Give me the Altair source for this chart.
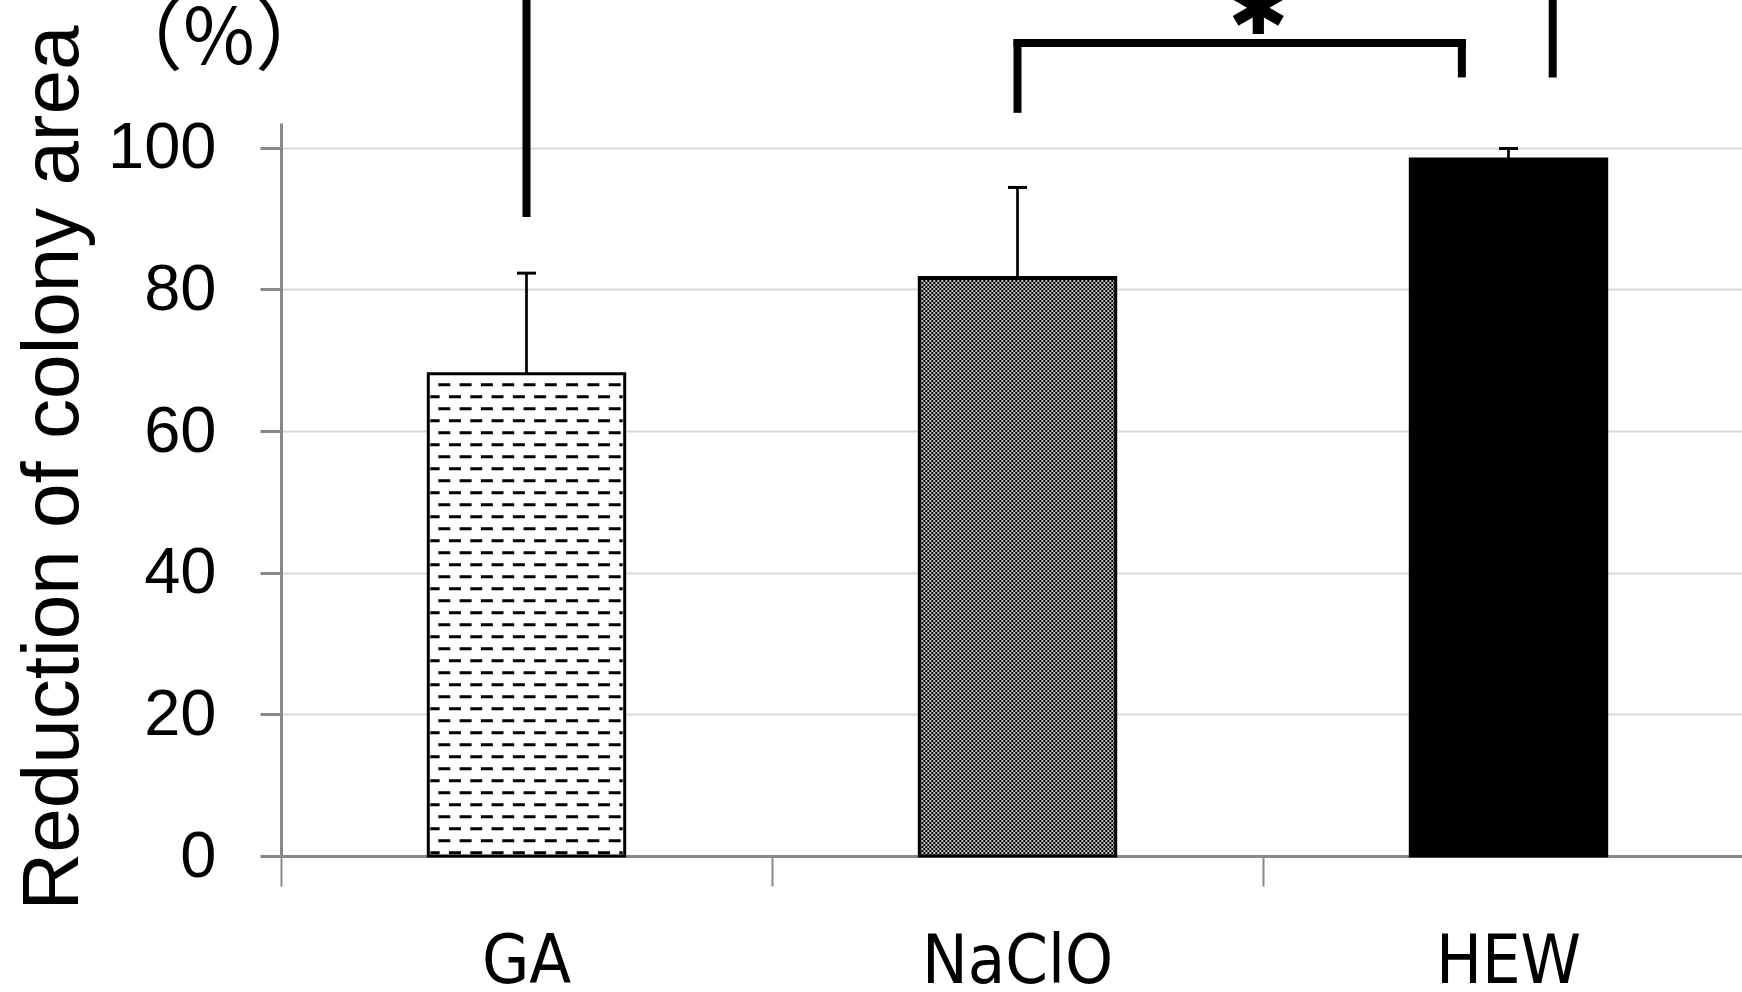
import altair as alt
import pandas as pd

# ---------------- data ----------------
categories = ["GA", "NaClO", "HEW"]
means = [68.1, 81.7, 98.4]
errors = [14.2, 12.7, 1.5]
y_ticks = [0, 20, 40, 60, 80, 100]
x_ticks = [0, 1, 2]
y_title = "Reduction of colony area"
unit_label = "（%）"

# significance marks (x in category-slot units, y in data units)
sig_x = [0.5, 1.5, 1.5, 2.405, 2.59]
sig_x2 = [0.5, 1.5, 2.405, 2.405, 2.59]
sig_y = [90.8, 105.5, 114.8, 110.5, 110.5]
sig_y2 = [130, 114.8, 114.8, 114.8, 130]
star_text = ["✱"]
star_x = [1.99]
star_y = [119.2]

# ---------------- layout ----------------
PLOT_W, PLOT_H = 1461, 733
LEFT, TOP, RIGHT, BOTTOM = 281, 123, 0, 136
SLOT_PX = 491
Y_MAX = 103.5
PX_PER_UNIT = PLOT_H / Y_MAX
X_MAX = PLOT_W / SLOT_PX

xs = alt.Scale(domain=[0, X_MAX], nice=False, zero=False)
ys = alt.Scale(domain=[0, Y_MAX], nice=False, zero=False)

axis_gray = "#898989"
X_AXIS = alt.Axis(values=x_ticks, labels=False, title=None, grid=False,
                  domainColor=axis_gray, domainWidth=3, tickColor=axis_gray,
                  tickWidth=2, tickSize=30)
Y_AXIS = alt.Axis(values=y_ticks, title=None, grid=True, gridColor="#d9d9d9",
                  gridWidth=2, domainColor=axis_gray, domainWidth=3,
                  tickColor=axis_gray, tickWidth=3, tickSize=21,
                  labelFont="Liberation Sans", labelFontSize=65,
                  labelColor="black", labelPadding=44)


def X(field):
    return alt.X(field, scale=xs, axis=X_AXIS)


def Y(field):
    return alt.Y(field, scale=ys, axis=Y_AXIS)


bars = pd.DataFrame({"cat": categories, "mean": means, "err": errors,
                     "i": list(range(len(categories)))})

base = alt.Chart(bars).transform_calculate(
    left="datum.i + 0.3", right="datum.i + 0.7", center="datum.i + 0.5",
    top="datum.mean + datum.err",
    capl="datum.i + 0.5 - 9.5/491", capr="datum.i + 0.5 + 9.5/491",
)

bar_fill = base.mark_bar(strokeWidth=0).encode(
    x=X("left:Q"), x2="right:Q",
    y=Y("mean:Q"), y2=alt.datum(0),
    fill=alt.Fill("cat:N", scale=alt.Scale(domain=categories,
                  range=["white", "black", "black"]), legend=None),
)

# ---- texture rows (decoration of the hatched bars) ----
ga_i = categories.index("GA")
ga_step = 12 / PX_PER_UNIT
ga_rows = []
k = 0
while True:
    yv = 3.3 / PX_PER_UNIT + k * ga_step
    if yv > means[ga_i] - 7 / PX_PER_UNIT:
        break
    ga_rows.append({"y": yv, "x": ga_i + 0.3 + 2 / SLOT_PX,
                    "x2": ga_i + 0.7 - 2 / SLOT_PX, "par": k % 2})
    k += 1
ga_df = pd.DataFrame(ga_rows)

na_i = categories.index("NaClO")
na_step = 2 / PX_PER_UNIT
na_rows = []
k = 0
while True:
    yv = 1 / PX_PER_UNIT + k * na_step
    if yv > means[na_i] - 2.5 / PX_PER_UNIT:
        break
    na_rows.append({"y": yv, "x": na_i + 0.3, "x2": na_i + 0.7, "par": k % 2})
    k += 1
na_df = pd.DataFrame(na_rows)


def rows_layer(df, parity, color, width, dash, offset):
    return alt.Chart(df).transform_filter(f"datum.par == {parity}").mark_rule(
        color=color, strokeWidth=width, strokeDash=dash, strokeDashOffset=offset
    ).encode(x=X("x:Q"), x2="x2:Q", y=Y("y:Q"))


ga_a = rows_layer(ga_df, 0, "black", 3, [12, 9.3], 2.65)
ga_b = rows_layer(ga_df, 1, "black", 3, [12, 9.3], 13.3)
na_a = rows_layer(na_df, 0, "white", 1.5, [2, 2], 0)
na_b = rows_layer(na_df, 1, "white", 1.5, [2, 2], 2)

bar_outline = base.mark_bar(fillOpacity=0, stroke="black", strokeWidth=3).encode(
    x=X("left:Q"), x2="right:Q", y=Y("mean:Q"), y2=alt.datum(0),
)

err_rule = base.mark_rule(color="black", strokeWidth=2.7).encode(
    x=X("center:Q"), y=Y("mean:Q"), y2="top:Q",
)
err_cap = base.mark_rule(color="black", strokeWidth=3).encode(
    x=X("capl:Q"), x2="capr:Q", y=Y("top:Q"),
)

sig_df = pd.DataFrame({"x": sig_x, "x2": sig_x2, "y": sig_y, "y2": sig_y2})
sig_lines = alt.Chart(sig_df).mark_rule(
    color="black", strokeWidth=8, strokeCap="square").encode(
    x=X("x:Q"), x2="x2:Q", y=Y("y:Q"), y2="y2:Q",
)
star = alt.Chart(pd.DataFrame({"t": star_text, "x": star_x, "y": star_y})).mark_text(
    font="DejaVu Sans", fontSize=72, fontWeight="bold", color="black",
    align="center", baseline="middle").encode(
    x=X("x:Q"), y=Y("y:Q"), text="t:N",
)

xlabels = base.mark_text(
    font="Liberation Sans Narrow, Arial Narrow, DejaVu Sans Condensed, sans-serif",
    fontSize=68, color="black", align="center", baseline="alphabetic").encode(
    x=X("center:Q"), y=alt.value(860), text="cat:N",
)

title_txt = alt.Chart(pd.DataFrame({"t": [y_title]})).mark_text(
    font="Liberation Sans", fontSize=80, color="black", angle=270,
    align="center", baseline="alphabetic").encode(
    x=alt.value(-203), y=alt.value(345), text="t:N")

unit_txt = alt.Chart(pd.DataFrame({"t": [unit_label]})).mark_text(
    font="Noto Sans CJK JP", fontSize=78, color="black",
    align="center", baseline="middle").encode(
    x=alt.value(-62), y=alt.value(-82), text="t:N")

chart = alt.layer(
    bar_fill, ga_a, ga_b, na_a, na_b, bar_outline, err_rule, err_cap,
    sig_lines, star, xlabels, title_txt, unit_txt,
).properties(
    width=PLOT_W, height=PLOT_H,
    autosize=alt.AutoSizeParams(type="none"),
    padding={"left": LEFT, "top": TOP, "right": RIGHT, "bottom": BOTTOM},
    background="white",
).configure_view(stroke=None)

chart.save("out.html", embed_options={"renderer": "svg", "actions": False})
